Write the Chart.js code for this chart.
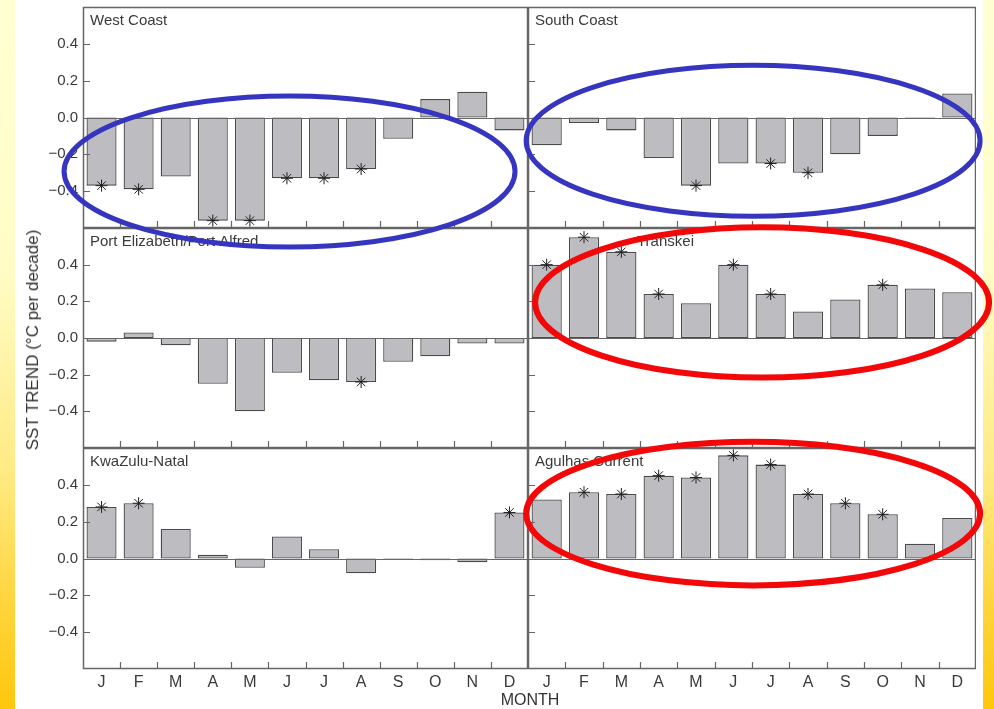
<!DOCTYPE html>
<html>
<head>
<meta charset="utf-8">
<script src="https://cdn.jsdelivr.net/npm/chart.js@4.4.1/dist/chart.umd.min.js"></script>
<style>
  html, body { margin: 0; padding: 0; }
  body {
    width: 994px; height: 709px; position: relative; overflow: hidden;
    background: linear-gradient(to bottom, #ffffd2 0%, #fffcc6 38%, #ffeb85 66%, #ffd43a 86%, #ffc70c 100%);
    font-family: "Liberation Sans", Arial, sans-serif;
  }
  #paper { position: absolute; left: 15px; top: 0; width: 968px; height: 709px; background: #fff; }
  .panel { position: absolute; }
  .panel canvas { display: block; }
  #overlay { position: absolute; left: 0; top: 0; pointer-events: none; }
  #ytitle {
    position: absolute; left: 33px; top: 340px; white-space: nowrap;
    transform: translate(-50%, -50%) rotate(-90deg);
    font-size: 17px; color: #333;
  }
  #xtitle {
    position: absolute; left: 530px; top: 700px; white-space: nowrap;
    transform: translate(-50%, -50%);
    font-size: 16px; color: #333;
  }
</style>
</head>
<body>
<div id="paper"></div>
<div id="panels"></div>
<canvas id="overlay" width="994" height="709"></canvas>
<div id="ytitle">SST TREND (°C per decade)</div>
<div id="xtitle">MONTH</div>

<script>
// Month categories and y-axis ticks
const months = ['J', 'F', 'M', 'A', 'M', 'J', 'J', 'A', 'S', 'O', 'N', 'D'];
const yTicks = [-0.4, -0.2, 0, 0.2, 0.4];
const yTickLabels = ['\u22120.4', '\u22120.2', '0.0', '0.2', '0.4'];

// Region names
const regionNames = ['West Coast', 'South Coast', 'Port Elizabeth/Port Alfred', 'Transkei', 'KwaZulu-Natal', 'Agulhas Current'];

// SST trend per month (°C per decade)
const westCoast     = [-0.37, -0.39, -0.32, -0.56, -0.56, -0.33, -0.33, -0.28, -0.115, 0.10, 0.14, -0.07];
const southCoast    = [-0.15, -0.03, -0.07, -0.22, -0.37, -0.25, -0.25, -0.30, -0.20, -0.10, -0.005, 0.13];
const portElizabeth = [-0.02, 0.03, -0.04, -0.25, -0.40, -0.19, -0.23, -0.24, -0.13, -0.10, -0.03, -0.03];
const transkei      = [0.40, 0.55, 0.47, 0.24, 0.19, 0.40, 0.24, 0.145, 0.21, 0.29, 0.27, 0.25];
const kwaZuluNatal  = [0.28, 0.30, 0.16, 0.02, -0.05, 0.12, 0.05, -0.08, -0.005, -0.01, -0.02, 0.25];
const agulhas       = [0.32, 0.36, 0.35, 0.45, 0.44, 0.56, 0.51, 0.35, 0.30, 0.24, 0.08, 0.22];

// Months whose trend is significant (marked with an asterisk)
const westCoastSig     = [0, 1, 3, 4, 5, 6, 7];
const southCoastSig    = [4, 6, 7];
const portElizabethSig = [7];
const transkeiSig      = [0, 1, 2, 3, 5, 6, 9];
const kwaZuluNatalSig  = [0, 1, 11];
const agulhasSig       = [1, 2, 3, 4, 5, 6, 7, 8, 9];

const seriesValues = [westCoast, southCoast, portElizabeth, transkei, kwaZuluNatal, agulhas];
const seriesSig = [westCoastSig, southCoastSig, portElizabethSig, transkeiSig, kwaZuluNatalSig, agulhasSig];

// Horizontal offset of each region name inside its panel
const nameOffsets = [7, 7, 7, 109, 7, 7];

// Highlight ellipses, in each panel's data units (category index / trend value)
const highlights = [
  { panel: 0, cx: 5.07, cy: -0.293, rx: 6.08, ry: 0.41,  color: '#3535c0', width: 5 },
  { panel: 1, cx: 5.53, cy: -0.126, rx: 6.08, ry: 0.41,  color: '#3535c0', width: 5 },
  { panel: 3, cx: 5.77, cy: 0.194,  rx: 6.08, ry: 0.41,  color: '#f20808', width: 6 },
  { panel: 5, cx: 5.53, cy: 0.244,  rx: 6.08, ry: 0.39,  color: '#f20808', width: 6 }
];

// Grid layout of the six panels
const PAD = 16;
const colSpec = [
  { left: 15,  width: 513, axisW: 68 },
  { left: 528, width: 448, axisW: 0 }
];
const rowSpec = [
  { top: 7 - PAD,   height: 221 + 2 * PAD, axisH: 0 },
  { top: 228 - PAD, height: 220 + 2 * PAD, axisH: 0 },
  { top: 448 - PAD, height: 221 + PAD + 24, axisH: 24 }
];

const frameColor = '#666';
const textColor = '#3a3a3a';

const panelFrame = {
  id: 'panelFrame',
  afterDatasetsDraw(chart, args, opts) {
    const { ctx, chartArea: a } = chart;
    const x = chart.scales.x, y = chart.scales.y;
    ctx.save();
    ctx.strokeStyle = frameColor;
    ctx.lineWidth = 1.2;
    // zero line
    const y0 = Math.round(y.getPixelForValue(0)) + 0.5;
    ctx.beginPath();
    ctx.moveTo(a.left, y0); ctx.lineTo(a.right, y0);
    ctx.stroke();
    // frame
    ctx.lineWidth = 1.5;
    ctx.strokeRect(a.left + 0.5, a.top + 0.5, a.right - a.left - 1, a.bottom - a.top - 1);
    // inward ticks on the left edge
    ctx.lineWidth = 1.2;
    ctx.beginPath();
    yTicks.forEach(v => {
      const py = Math.round(y.getPixelForValue(v)) + 0.5;
      ctx.moveTo(a.left, py); ctx.lineTo(a.left + 7, py);
    });
    // inward ticks at category boundaries on the bottom edge
    for (let i = 0; i < months.length - 1; i++) {
      const px = Math.round((x.getPixelForValue(i) + x.getPixelForValue(i + 1)) / 2) + 0.5;
      ctx.moveTo(px, a.bottom); ctx.lineTo(px, a.bottom - 7);
    }
    ctx.stroke();
    // region name
    ctx.fillStyle = textColor;
    ctx.font = '15px "Liberation Sans", Arial, sans-serif';
    ctx.textBaseline = 'alphabetic';
    ctx.textAlign = 'left';
    ctx.fillText(opts.name, a.left + opts.offset, a.top + 18);
    ctx.restore();
  }
};

const charts = [];
const holder = document.getElementById('panels');

seriesValues.forEach((values, p) => {
  const col = colSpec[p % 2];
  const row = rowSpec[Math.floor(p / 2)];
  const div = document.createElement('div');
  div.className = 'panel';
  div.style.left = col.left + 'px';
  div.style.top = row.top + 'px';
  const canvas = document.createElement('canvas');
  canvas.width = col.width;
  canvas.height = row.height;
  div.appendChild(canvas);
  holder.appendChild(div);

  const sig = seriesSig[p];
  const stars = values.map((v, i) => sig.includes(i) ? v : null);

  const chart = new Chart(canvas, {
    data: {
      labels: months,
      datasets: [
        {
          type: 'line',
          data: stars,
          showLine: false,
          order: 0,
          pointStyle: 'star',
          pointRadius: 6,
          pointBorderWidth: 1,
          pointBorderColor: '#1e1e1e',
          pointBackgroundColor: '#1e1e1e'
        },
        {
          type: 'bar',
          data: values,
          order: 1,
          backgroundColor: '#bdbdc1',
          borderColor: '#4a4a4a',
          borderWidth: 1.3,
          borderSkipped: false,
          barPercentage: 0.81,
          categoryPercentage: 1.0
        }
      ]
    },
    options: {
      responsive: false,
      animation: false,
      events: [],
      layout: { autoPadding: false, padding: { top: PAD, bottom: row.axisH ? 0 : PAD, left: 0, right: 0 } },
      plugins: {
        legend: { display: false },
        tooltip: { enabled: false },
        panelFrame: { name: regionNames[p], offset: nameOffsets[p] }
      },
      scales: {
        x: {
          type: 'category',
          offset: true,
          display: row.axisH > 0,
          grid: { display: false, drawTicks: false },
          border: { display: false },
          ticks: {
            padding: 4,
            color: textColor,
            font: { family: '"Liberation Sans", Arial, sans-serif', size: 16 },
            maxRotation: 0,
            autoSkip: false
          },
          afterFit(s) { s.height = row.axisH; }
        },
        y: {
          type: 'linear',
          min: -0.6,
          max: 0.6,
          display: true,
          grid: { display: false, drawTicks: false },
          border: { display: false },
          afterBuildTicks(s) { s.ticks = yTicks.map(v => ({ value: v })); },
          ticks: {
            display: col.axisW > 0,
            padding: 5,
            color: textColor,
            font: { family: '"Liberation Sans", Arial, sans-serif', size: 15 },
            callback: (v, i) => yTickLabels[i]
          },
          afterFit(s) { s.width = col.axisW; }
        }
      }
    },
    plugins: [panelFrame]
  });
  charts.push({ chart, left: col.left, top: row.top });
});

// Highlight ellipses drawn over all panels
const ov = document.getElementById('overlay').getContext('2d');
highlights.forEach(h => {
  const { chart, left, top } = charts[h.panel];
  const x = chart.scales.x, y = chart.scales.y;
  const step = x.getPixelForValue(1) - x.getPixelForValue(0);
  const cx = left + x.getPixelForValue(0) + h.cx * step;
  const cy = top + y.getPixelForValue(h.cy);
  const rx = h.rx * step;
  const ry = Math.abs(y.getPixelForValue(h.ry) - y.getPixelForValue(0));
  ov.save();
  ov.strokeStyle = h.color;
  ov.lineWidth = h.width;
  ov.beginPath();
  ov.ellipse(cx, cy, rx, ry, 0, 0, Math.PI * 2);
  ov.stroke();
  ov.restore();
});
</script>
</body>
</html>
